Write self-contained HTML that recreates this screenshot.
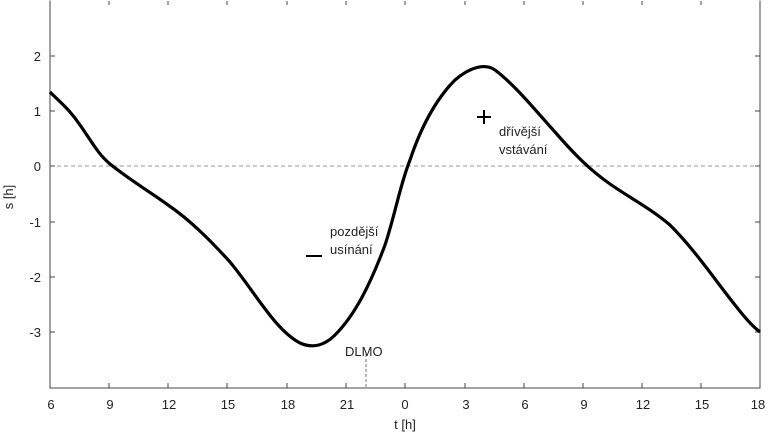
<!DOCTYPE html>
<html><head><meta charset="utf-8"><style>
html,body{margin:0;padding:0;background:#fff;}
svg{display:block;font-family:"Liberation Sans",sans-serif;}
</style></head><body>
<svg width="768" height="433" viewBox="0 0 768 433" xmlns="http://www.w3.org/2000/svg">
<rect width="768" height="433" fill="#fff"/>
<line x1="50" y1="166" x2="760" y2="166" stroke="#999" stroke-dasharray="4,3" stroke-width="1"/>
<line x1="366" y1="354" x2="366" y2="388" stroke="#777" stroke-dasharray="3,2" stroke-width="1"/>
<path d="M50,0.5 V388 H760 V0.5" fill="none" stroke="#444" stroke-width="1"/>
<g stroke="#444" stroke-width="1">
<line x1="109" y1="388" x2="109" y2="383"/><line x1="168" y1="388" x2="168" y2="383"/><line x1="227" y1="388" x2="227" y2="383"/><line x1="287" y1="388" x2="287" y2="383"/><line x1="346" y1="388" x2="346" y2="383"/><line x1="405" y1="388" x2="405" y2="383"/><line x1="465" y1="388" x2="465" y2="383"/><line x1="524" y1="388" x2="524" y2="383"/><line x1="583" y1="388" x2="583" y2="383"/><line x1="642" y1="388" x2="642" y2="383"/><line x1="701" y1="388" x2="701" y2="383"/>
<line x1="109" y1="1" x2="109" y2="5"/><line x1="168" y1="1" x2="168" y2="5"/><line x1="227" y1="1" x2="227" y2="5"/><line x1="287" y1="1" x2="287" y2="5"/><line x1="346" y1="1" x2="346" y2="5"/><line x1="405" y1="1" x2="405" y2="5"/><line x1="465" y1="1" x2="465" y2="5"/><line x1="524" y1="1" x2="524" y2="5"/><line x1="583" y1="1" x2="583" y2="5"/><line x1="642" y1="1" x2="642" y2="5"/><line x1="701" y1="1" x2="701" y2="5"/>
<line x1="50" y1="56" x2="55" y2="56"/><line x1="50" y1="111" x2="55" y2="111"/><line x1="50" y1="166" x2="55" y2="166"/><line x1="50" y1="222" x2="55" y2="222"/><line x1="50" y1="277" x2="55" y2="277"/><line x1="50" y1="332" x2="55" y2="332"/>
<line x1="755" y1="56" x2="760" y2="56"/><line x1="755" y1="111" x2="760" y2="111"/><line x1="755" y1="166" x2="760" y2="166"/><line x1="755" y1="222" x2="760" y2="222"/><line x1="755" y1="277" x2="760" y2="277"/><line x1="755" y1="332" x2="760" y2="332"/>
</g>
<g font-size="13" fill="#222" text-anchor="middle">
<text x="51" y="409">6</text><text x="110" y="409">9</text><text x="169" y="409">12</text><text x="228" y="409">15</text><text x="288" y="409">18</text><text x="347" y="409">21</text><text x="405" y="409">0</text><text x="466" y="409">3</text><text x="525" y="409">6</text><text x="584" y="409">9</text><text x="643" y="409">12</text><text x="702" y="409">15</text><text x="758" y="409">18</text>
<text x="405" y="429">t [h]</text>
</g>
<g font-size="13" fill="#222" text-anchor="end">
<text x="41" y="61">2</text><text x="41" y="116">1</text><text x="41" y="171">0</text><text x="41" y="227">-1</text><text x="41" y="282">-2</text><text x="41" y="337">-3</text>
</g>
<text x="13" y="197" font-size="13" fill="#222" text-anchor="middle" transform="rotate(-90 13 197)">s [h]</text>
<path d="M50,92 C62,104 70,110 80,125 C92,142 98,154 110,164 C130,180 150,192 168,205 C190,220 210,240 230,262 C255,292 275,330 300,343 C313,349 325,345 335,335 C355,315 370,285 385,245 C395,215 400,185 410,160 C420,130 435,100 455,80 C470,67 485,63 495,70 C515,85 535,110 555,132 C575,155 590,170 610,184 C630,198 650,208 670,225 C695,250 715,280 735,305 C745,318 752,326 760,332" fill="none" stroke="#000" stroke-width="3.2" stroke-linejoin="round"/>
<g font-size="13" fill="#222">
<text x="345" y="356">DLMO</text>
<text x="330" y="236">pozdější</text>
<text x="330" y="254">usínání</text>
<text x="499" y="136">dřívější</text>
<text x="499" y="154">vstávání</text>
</g>
<line x1="306" y1="256" x2="322" y2="256" stroke="#000" stroke-width="2"/>
<line x1="477" y1="117" x2="491" y2="117" stroke="#000" stroke-width="2"/>
<line x1="484" y1="110" x2="484" y2="124" stroke="#000" stroke-width="2"/>
</svg>
</body></html>
